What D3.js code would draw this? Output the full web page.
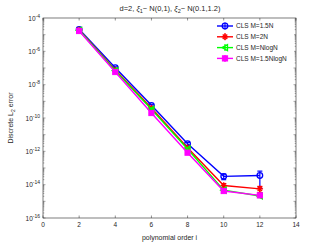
<!DOCTYPE html>
<html>
<head>
<meta charset="UTF-8">
<script src="https://d3js.org/d3.v7.min.js"></script>
<style>
  body { margin: 0; background: #fff; }
  text { font-family: "Liberation Sans", Arial, sans-serif; fill: #262626; }
</style>
</head>
<body>
<div id="chart"></div>
<script>
// polynomial orders
var orders = [2, 4, 6, 8, 10, 12];
// log10 of the error for each method
var blueLog = [-4.68, -6.98, -9.24, -11.54, -13.5, -13.45];
var redLog = [-4.72, -7.12, -9.4, -11.78, -14.05, -14.25];
var greenLog = [-4.74, -7.16, -9.48, -11.86, -14.33, -14.68];
var magentaLog = [-4.78, -7.24, -9.7, -12.08, -14.38, -14.64];
// error bar half widths, relative to the value
var blueErr = [0.1, 0.12, 0.15, 0.2, 0.37, 0.83];
var redErr = [0.08, 0.1, 0.12, 0.15, 0.3, 0.4];
var greenErr = [0.08, 0.1, 0.12, 0.15, 0.2, 0.2];
var magentaErr = [0.08, 0.1, 0.12, 0.15, 0.15, 0.2];
var names = ["CLS M=1.5N", "CLS M=2N", "CLS M=NlogN", "CLS M=1.5NlogN"];
var colors = ["#0000ff", "#ff0000", "#00ff00", "#ff00ff"];
var xTicks = [0, 2, 4, 6, 8, 10, 12, 14];
var yTickExps = [-4, -6, -8, -10, -12, -14, -16];

var W = 327, H = 245;
var margin = {top: 18, right: 31, bottom: 27, left: 43};
var width = W - margin.left - margin.right,
    height = H - margin.top - margin.bottom;

var svg = d3.select("#chart").append("svg")
    .attr("width", W).attr("height", H);

var x = d3.scaleLinear().domain([0, 14]).range([margin.left, margin.left + width]);
var y = d3.scaleLog().domain([1e-16, 1e-4]).range([margin.top + height, margin.top]);

var g = svg.append("g");

// frame
g.append("rect").attr("x", margin.left).attr("y", margin.top)
    .attr("width", width).attr("height", height)
    .attr("fill", "#fff").attr("stroke", "#262626").attr("stroke-width", 0.6);

// x ticks
xTicks.forEach(function (t) {
    g.append("line").attr("x1", x(t)).attr("x2", x(t))
        .attr("y1", margin.top + height).attr("y2", margin.top + height - 2.5)
        .attr("stroke", "#262626").attr("stroke-width", 0.5);
    g.append("line").attr("x1", x(t)).attr("x2", x(t))
        .attr("y1", margin.top).attr("y2", margin.top + 2.5)
        .attr("stroke", "#262626").attr("stroke-width", 0.5);
    g.append("text").attr("x", x(t)).attr("y", margin.top + height + 9)
        .attr("text-anchor", "middle").attr("font-size", 6.5).text(t);
});

// y minor ticks
for (var e = -16; e < -4; e++) {
    for (var m = 1; m < 10; m++) {
        var v = m * Math.pow(10, e);
        var len = m === 1 ? 2.5 : 1.3;
        [margin.left, margin.left + width].forEach(function (px, i) {
            g.append("line").attr("x1", px).attr("x2", i === 0 ? px + len : px - len)
                .attr("y1", y(v)).attr("y2", y(v))
                .attr("stroke", "#262626").attr("stroke-width", 0.4);
        });
    }
}
yTickExps.forEach(function (ex) {
    var t = g.append("text").attr("x", margin.left - 3).attr("y", y(Math.pow(10, ex)) + 2.5)
        .attr("text-anchor", "end").attr("font-size", 6.5);
    t.append("tspan").text("10");
    t.append("tspan").attr("dy", -3).attr("font-size", 5).text(ex);
});

// labels
var title = svg.append("text").attr("x", 170).attr("y", 11)
    .attr("text-anchor", "middle").attr("font-size", 7.5);
title.append("tspan").text("d=2, ");
title.append("tspan").attr("font-style", "italic").text("ξ");
title.append("tspan").attr("dy", 2).attr("font-size", 5.5).text("1");
title.append("tspan").attr("dy", -2).text("~ N(0,1), ");
title.append("tspan").attr("font-style", "italic").text("ξ");
title.append("tspan").attr("dy", 2).attr("font-size", 5.5).text("2");
title.append("tspan").attr("dy", -2).text("~ N(0.1,1.2)");

svg.append("text").attr("x", x(7)).attr("y", 240)
    .attr("text-anchor", "middle").attr("font-size", 7).text("polynomial order i");

var yl = svg.append("text").attr("transform", "translate(13," + (margin.top + height / 2) + ") rotate(-90)")
    .attr("text-anchor", "middle").attr("font-size", 7);
yl.append("tspan").text("Discrete L");
yl.append("tspan").attr("dy", 2).attr("font-size", 5).text("2");
yl.append("tspan").attr("dy", -2).text(" error");

// markers
function marker(sel, k, cx, cy) {
    var c = colors[k];
    if (k === 0) {
        sel.append("circle").attr("cx", cx).attr("cy", cy).attr("r", 2.8)
            .attr("fill", "none").attr("stroke", c).attr("stroke-width", 1.3);
    } else if (k === 1) {
        for (var a = 0; a < 4; a++) {
            var ang = a * Math.PI / 4, r = 3.2;
            sel.append("line").attr("x1", cx - r * Math.cos(ang)).attr("x2", cx + r * Math.cos(ang))
                .attr("y1", cy - r * Math.sin(ang)).attr("y2", cy + r * Math.sin(ang))
                .attr("stroke", c).attr("stroke-width", 1.3);
        }
    } else if (k === 2) {
        sel.append("path").attr("d", "M" + (cx - 3) + "," + cy + "L" + (cx + 2.5) + "," + (cy - 3) +
            "L" + (cx + 2.5) + "," + (cy + 3) + "Z")
            .attr("fill", "none").attr("stroke", c).attr("stroke-width", 1.3);
    } else {
        sel.append("rect").attr("x", cx - 2.6).attr("y", cy - 2.6).attr("width", 5.2).attr("height", 5.2)
            .attr("fill", c).attr("stroke", c).attr("stroke-width", 1);
    }
}

var series = [blueLog, redLog, greenLog, magentaLog];
var errs = [blueErr, redErr, greenErr, magentaErr];
var line = d3.line().x(function (d) { return x(d[0]); }).y(function (d) { return y(Math.pow(10, d[1])); });

series.forEach(function (s, k) {
    var pts = orders.map(function (o, i) { return [o, s[i]]; });
    var sg = g.append("g");
    sg.append("path").attr("d", line(pts)).attr("fill", "none")
        .attr("stroke", colors[k]).attr("stroke-width", 1.4);
    pts.forEach(function (p, i) {
        var val = Math.pow(10, p[1]);
        var lo = y(val * (1 - errs[k][i])), hi = y(val * (1 + errs[k][i]));
        var cx = x(p[0]);
        sg.append("line").attr("x1", cx).attr("x2", cx).attr("y1", lo).attr("y2", hi)
            .attr("stroke", colors[k]).attr("stroke-width", 1.2);
        [lo, hi].forEach(function (yy) {
            sg.append("line").attr("x1", cx - 2.5).attr("x2", cx + 2.5).attr("y1", yy).attr("y2", yy)
                .attr("stroke", colors[k]).attr("stroke-width", 1.2);
        });
        marker(sg, k, cx, y(val));
    });
});

// legend
var lg = svg.append("g");
lg.append("rect").attr("x", 214).attr("y", 21).attr("width", 80).attr("height", 43).attr("fill", "#fff");
names.forEach(function (n, k) {
    var ly = 26 + k * 10.8;
    lg.append("line").attr("x1", 217).attr("x2", 233).attr("y1", ly).attr("y2", ly)
        .attr("stroke", colors[k]).attr("stroke-width", 1.4);
    lg.append("line").attr("x1", 225).attr("x2", 225).attr("y1", ly - 3.5).attr("y2", ly + 3.5)
        .attr("stroke", colors[k]).attr("stroke-width", 1.2);
    marker(lg, k, 225, ly);
    lg.append("text").attr("x", 236).attr("y", ly + 2.4).attr("font-size", 6.5).text(n);
});
</script>
</body>
</html>
